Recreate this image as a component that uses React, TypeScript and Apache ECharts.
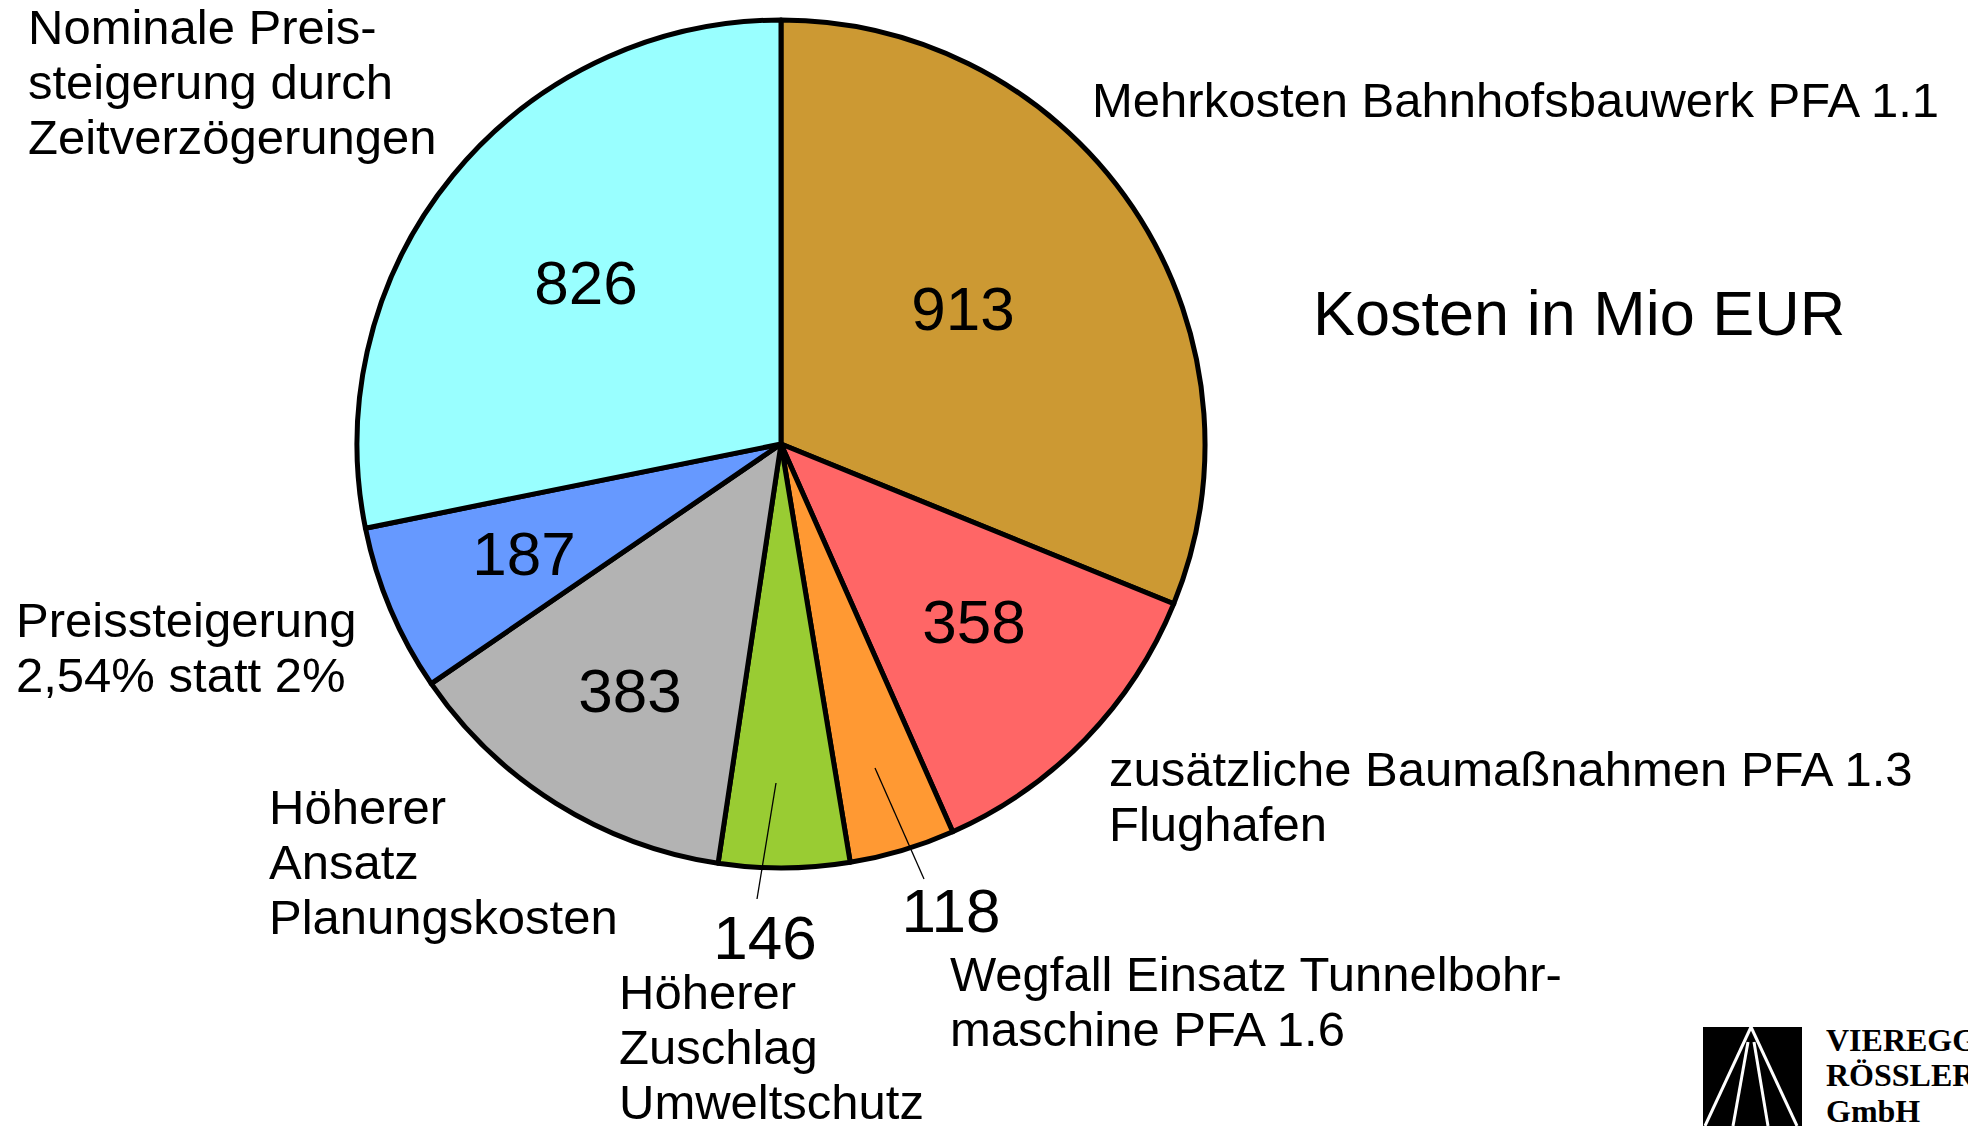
import { useEffect, useRef } from "react";
import * as echarts from "echarts";

// ---- data ----
const categories = [
  "Mehrkosten Bahnhofsbauwerk PFA 1.1",
  "zusätzliche Baumaßnahmen PFA 1.3\nFlughafen",
  "Wegfall Einsatz Tunnelbohr-\nmaschine PFA 1.6",
  "Höherer\nZuschlag\nUmweltschutz",
  "Höherer\nAnsatz\nPlanungskosten",
  "Preissteigerung\n2,54% statt 2%",
  "Nominale Preis-\nsteigerung durch\nZeitverzögerungen",
];
const values = [913, 358, 118, 146, 383, 187, 826];
const colors = ["#CC9933", "#FF6666", "#FF9933", "#99CC33", "#B3B3B3", "#6699FF", "#99FFFF"];
const chartTitle = "Kosten in Mio EUR";
const logoLines = ["VIEREGG", "RÖSSLER", "GmbH"];

// ---- layout (pixels) ----
const CENTER = [781, 444];
const RADIUS = 424;
const FONT = "'Liberation Sans', Arial, sans-serif";
const valueLabelPos = [
  [963, 308],
  [974, 621],
  [951, 910],
  [765, 937],
  [630, 690],
  [524, 553],
  [586, 282],
];
const nameLabelPos = [
  [1092, 100],
  [1109, 796],
  [950, 1001],
  [619, 1047],
  [269, 862],
  [16, 647],
  [28, 82],
];
const leaderLines: number[][][] = [
  [[875, 768], [924, 879]],
  [[776, 783], [757, 899]],
];

export default function App() {
  const ref = useRef<HTMLDivElement>(null);

  useEffect(() => {
    document.body.style.margin = "0";
    const chart = echarts.init(ref.current!, null, { renderer: "svg" });

    const valueData = values.map((v, i) => ({
      value: v,
      name: categories[i],
      itemStyle: { color: colors[i] },
    }));
    const nameData = values.map((v, i) => ({ value: v, name: categories[i] }));

    chart.setOption({
      animation: false,
      backgroundColor: "#ffffff",
      series: [
        {
          type: "pie",
          center: CENTER,
          radius: RADIUS,
          startAngle: 90,
          clockwise: true,
          avoidLabelOverlap: false,
          silent: true,
          itemStyle: { borderColor: "#000", borderWidth: 5 },
          label: {
            show: true,
            position: "inside",
            formatter: "{c}",
            fontSize: 62,
            color: "#000",
            fontFamily: FONT,
          },
          labelLine: { show: false },
          labelLayout: (p: any) => ({
            x: valueLabelPos[p.dataIndex][0],
            y: valueLabelPos[p.dataIndex][1],
            align: "center",
            verticalAlign: "middle",
          }),
          data: valueData,
        },
        {
          type: "pie",
          center: CENTER,
          radius: RADIUS,
          startAngle: 90,
          clockwise: true,
          avoidLabelOverlap: false,
          silent: true,
          z: 3,
          itemStyle: { color: "rgba(0,0,0,0)", borderWidth: 0 },
          label: {
            show: true,
            position: "outside",
            formatter: "{b}",
            fontSize: 49,
            lineHeight: 55,
            color: "#000",
            fontFamily: FONT,
          },
          labelLine: { show: false },
          labelLayout: (p: any) => ({
            x: nameLabelPos[p.dataIndex][0],
            y: nameLabelPos[p.dataIndex][1],
            align: "left",
            verticalAlign: "middle",
          }),
          data: nameData,
        },
      ],
      graphic: [
        ...leaderLines.map((pts) => ({
          type: "polyline",
          silent: true,
          z: 10,
          shape: { points: pts },
          style: { stroke: "#000", lineWidth: 1.3, fill: "none" },
        })),
        {
          type: "text",
          x: 1313,
          y: 313,
          silent: true,
          style: {
            text: chartTitle,
            fontSize: 63,
            fontFamily: FONT,
            fill: "#000",
            textAlign: "left",
            textVerticalAlign: "middle",
          },
        },
        {
          type: "group",
          silent: true,
          children: [
            { type: "rect", shape: { x: 1703, y: 1027, width: 99, height: 99 }, style: { fill: "#000" } },
            { type: "line", shape: { x1: 1751, y1: 1027, x2: 1705, y2: 1126 }, style: { stroke: "#fff", lineWidth: 3 } },
            { type: "line", shape: { x1: 1751, y1: 1027, x2: 1797, y2: 1126 }, style: { stroke: "#fff", lineWidth: 3 } },
            { type: "line", shape: { x1: 1748, y1: 1042, x2: 1733, y2: 1126 }, style: { stroke: "#fff", lineWidth: 3 } },
            { type: "line", shape: { x1: 1754, y1: 1042, x2: 1768, y2: 1126 }, style: { stroke: "#fff", lineWidth: 3 } },
            ...logoLines.map((t, i) => ({
              type: "text",
              x: 1826,
              y: [1040, 1075, 1111][i],
              style: {
                text: t,
                fontSize: 32,
                fontWeight: "bold",
                fontFamily: "'Liberation Serif', 'Times New Roman', serif",
                fill: "#000",
                textAlign: "left",
                textVerticalAlign: "middle",
              },
            })),
          ],
        },
      ],
    });

    return () => chart.dispose();
  }, []);

  return (
    <div
      ref={ref}
      style={{ position: "absolute", left: 0, top: 0, width: 1968, height: 1126, background: "#fff" }}
    />
  );
}
